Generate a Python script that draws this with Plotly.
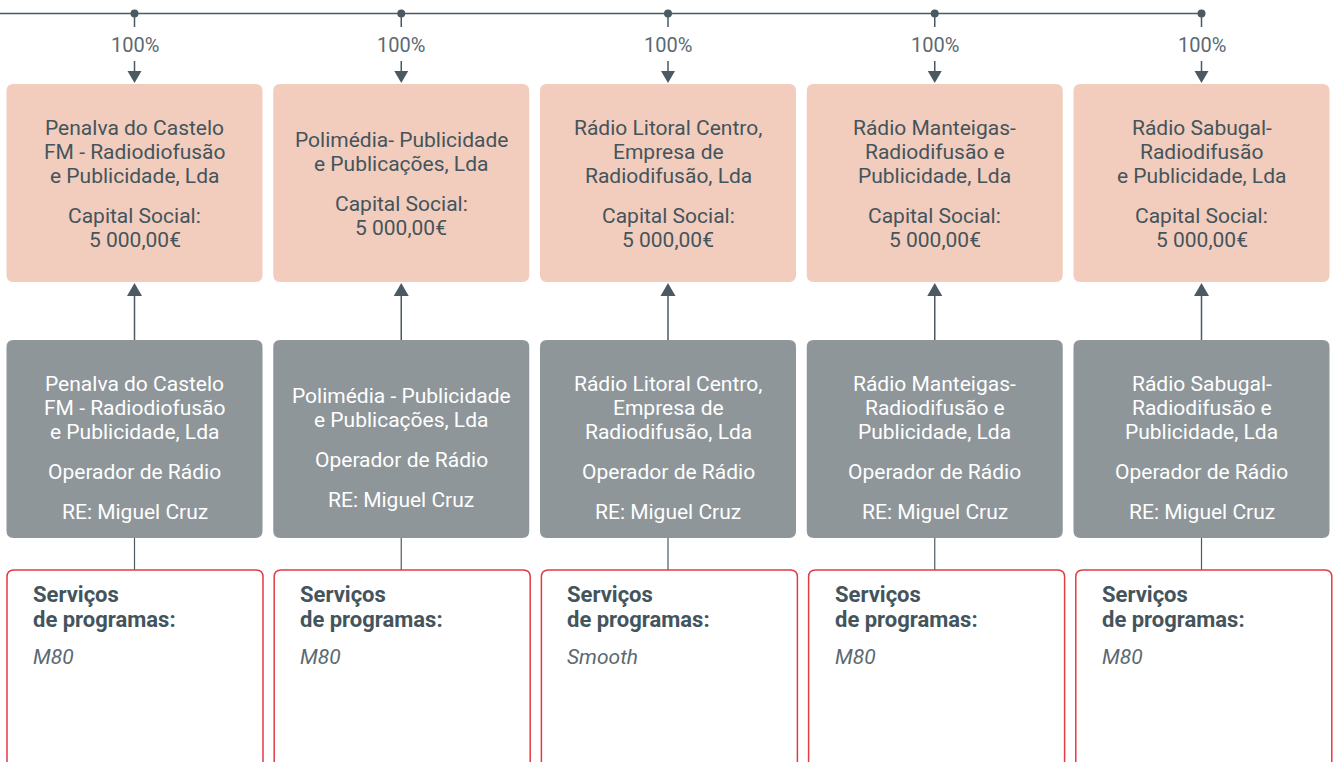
import plotly.graph_objects as go

# ---------------- data ----------------
ownership = ["100%", "100%", "100%", "100%", "100%"]
holding_names = [
    ["Penalva do Castelo", "FM - Radiodiofusão", "e Publicidade, Lda"],
    ["Polimédia- Publicidade", "e Publicações, Lda"],
    ["Rádio Litoral Centro,", "Empresa de", "Radiodifusão, Lda"],
    ["Rádio Manteigas-", "Radiodifusão e", "Publicidade, Lda"],
    ["Rádio Sabugal-", "Radiodifusão", "e Publicidade, Lda"],
]
capital_label = "Capital Social:"
capital_values = ["5 000,00€", "5 000,00€", "5 000,00€", "5 000,00€", "5 000,00€"]
operator_names = [
    ["Penalva do Castelo", "FM - Radiodiofusão", "e Publicidade, Lda"],
    ["Polimédia - Publicidade", "e Publicações, Lda"],
    ["Rádio Litoral Centro,", "Empresa de", "Radiodifusão, Lda"],
    ["Rádio Manteigas-", "Radiodifusão e", "Publicidade, Lda"],
    ["Rádio Sabugal-", "Radiodifusão e", "Publicidade, Lda"],
]
operator_roles = ["Operador de Rádio"] * 5
responsible = ["RE: Miguel Cruz"] * 5
services_title = ["Serviços", "de programas:"]
services = ["M80", "M80", "Smooth", "M80", "M80"]

# ---------------- styles / layout constants ----------------
W, H = 1337, 762
FONT = "Roboto, 'Open Sans', sans-serif"
DARK = "#44545c"
LINE = "#4b5a62"
SALMON = "#f2cdbd"
GREY = "#8e969a"
RED = "#e23b44"
LABEL = "#5b6a72"

X0 = 6.5          # left of first column box
STEP = 266.75     # column spacing
BW = 256          # box width
FS = 21
LH = 24           # line height
PG = 40           # paragraph step

TOP_Y = 13.5
SAL_Y0, SAL_Y1 = 84, 282
GRY_Y0, GRY_Y1 = 340, 538
RED_Y0 = 570

shapes = []
annotations = []


def rrect(x0, y0, x1, y1, r):
    return (f"M{x0+r},{y0} L{x1-r},{y0} Q{x1},{y0} {x1},{y0+r} "
            f"L{x1},{y1-r} Q{x1},{y1} {x1-r},{y1} L{x0+r},{y1} "
            f"Q{x0},{y1} {x0},{y1-r} L{x0},{y0+r} Q{x0},{y0} {x0+r},{y0} Z")


def add_text(x, y, s, color, size=FS, xanchor="center", bold=False, italic=False):
    annotations.append(dict(
        x=x, y=y, xref="x", yref="y", text=s, showarrow=False,
        xanchor=xanchor, yanchor="middle",
        font=dict(family=FONT, size=size, color=color,
                  weight="bold" if bold else "normal",
                  style="italic" if italic else "normal"),
    ))


def block(xc, yc, paragraphs, color):
    n_lines = sum(len(p) for p in paragraphs)
    span = (n_lines - len(paragraphs)) * LH + (len(paragraphs) - 1) * PG
    y = yc - span / 2
    for p in paragraphs:
        for li, s in enumerate(p):
            add_text(xc, y, s, color)
            if li < len(p) - 1:
                y += LH
        y += PG


n = len(holding_names)
centers = [X0 + i * STEP + BW / 2 for i in range(n)]

# top horizontal line
shapes.append(dict(type="line", xref="x", yref="y", x0=0, x1=centers[-1],
                   y0=TOP_Y, y1=TOP_Y, line=dict(color=LINE, width=1.5)))

for i in range(n):
    xc = centers[i]
    bx0, bx1 = xc - BW / 2, xc + BW / 2
    # dot
    shapes.append(dict(type="circle", xref="x", yref="y", x0=xc - 4, x1=xc + 4,
                       y0=TOP_Y - 4, y1=TOP_Y + 4, fillcolor=LINE,
                       line=dict(width=0)))
    # stem from dot
    shapes.append(dict(type="line", xref="x", yref="y", x0=xc, x1=xc, y0=TOP_Y,
                       y1=27, line=dict(color=LINE, width=1.5)))
    add_text(xc, 45, ownership[i], LABEL, size=20)
    # down arrow
    shapes.append(dict(type="line", xref="x", yref="y", x0=xc, x1=xc, y0=61,
                       y1=73, line=dict(color=LINE, width=1.5)))
    shapes.append(dict(type="path", xref="x", yref="y",
                       path=f"M{xc-7},71 L{xc+7},71 L{xc},83 Z",
                       fillcolor=LINE, line=dict(width=0)))
    # salmon box
    shapes.append(dict(type="path", xref="x", yref="y",
                       path=rrect(bx0, SAL_Y0, bx1, SAL_Y1, 7),
                       fillcolor=SALMON, line=dict(width=0), layer="below"))
    block(xc, 184, [holding_names[i], [capital_label, capital_values[i]]], DARK)
    # up arrow between boxes
    shapes.append(dict(type="path", xref="x", yref="y",
                       path=f"M{xc},283 L{xc+7.5},296 L{xc-7.5},296 Z",
                       fillcolor=LINE, line=dict(width=0)))
    shapes.append(dict(type="line", xref="x", yref="y", x0=xc, x1=xc, y0=295,
                       y1=GRY_Y0, line=dict(color=LINE, width=1.5)))
    # grey box
    shapes.append(dict(type="path", xref="x", yref="y",
                       path=rrect(bx0, GRY_Y0, bx1, GRY_Y1, 7),
                       fillcolor=GREY, line=dict(width=0), layer="below"))
    block(xc, 448, [operator_names[i], [operator_roles[i]], [responsible[i]]], "#ffffff")
    # connector to services box
    shapes.append(dict(type="line", xref="x", yref="y", x0=xc, x1=xc, y0=GRY_Y1,
                       y1=RED_Y0, line=dict(color=LINE, width=1.2)))
    # services box (outlined, runs off the bottom)
    rx0 = bx0 + 0.5 + i * 0.45
    shapes.append(dict(type="path", xref="x", yref="y",
                       path=rrect(rx0, RED_Y0, rx0 + BW, H + 20, 7),
                       fillcolor="rgba(0,0,0,0)", line=dict(color=RED, width=1.5)))
    tx = rx0 + 24
    add_text(tx, 594, services_title[0], DARK, size=22, xanchor="left", bold=True)
    add_text(tx, 619, services_title[1], DARK, size=22, xanchor="left", bold=True)
    add_text(tx, 657, services[i], LABEL, size=21, xanchor="left", italic=True)

fig = go.Figure()
fig.update_layout(
    width=W, height=H, autosize=False,
    margin=dict(l=0, r=0, t=0, b=0),
    paper_bgcolor="#ffffff", plot_bgcolor="#ffffff",
    xaxis=dict(range=[0, W], visible=False, fixedrange=True),
    yaxis=dict(range=[H, 0], visible=False, fixedrange=True),
    shapes=shapes, annotations=annotations, showlegend=False,
)
fig.write_html("out.html", config={"displayModeBar": False},
               post_script="document.body.style.margin='0';document.body.style.overflow='hidden';")
